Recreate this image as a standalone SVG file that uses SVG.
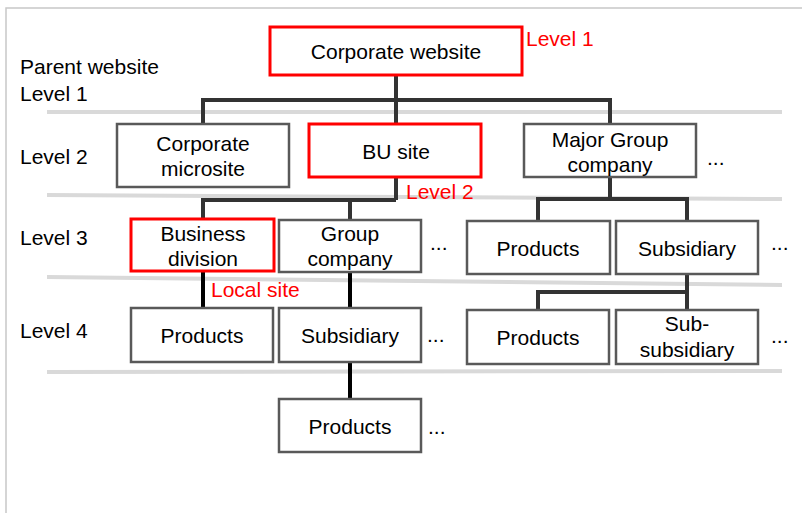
<svg xmlns="http://www.w3.org/2000/svg" width="802" height="513" viewBox="0 0 802 513">
<style>
text{font-family:"Liberation Sans",Arial,sans-serif;font-size:21px;fill:#000}
.c{text-anchor:middle}
.r{fill:#ff0000}
.box{fill:#fff;stroke:#595959;stroke-width:2.5}
.red{fill:#fff;stroke:#ff0000;stroke-width:3}
.sep{stroke:#d9d9d9;stroke-width:4;fill:none}
.ln{stroke:#333;stroke-width:4;fill:none}
.bk{stroke:#000;stroke-width:4;fill:none}
</style>
<rect width="802" height="513" fill="#fff"/>
<path d="M6,513 V8 H802" fill="none" stroke="#c8c8c8" stroke-width="1.5"/>
<g id="separators">
<line class="sep" x1="47" y1="112" x2="782" y2="112"/>
<line class="sep" x1="47" y1="195" x2="782" y2="199"/>
<line class="sep" x1="47" y1="277" x2="782" y2="285"/>
<line class="sep" x1="47" y1="372" x2="782" y2="371"/>
</g>
<g id="level-labels">
<text x="20" y="74">Parent website</text>
<text x="20" y="101">Level 1</text>
<text x="20" y="164">Level 2</text>
<text x="20" y="245">Level 3</text>
<text x="20" y="338">Level 4</text>
</g>
<g id="connectors">
<path class="ln" d="M396,75 V100 M203,124 V100 H610 V124 M396,100 V124"/>
<path class="ln" d="M396,177 V200 M203,219 V200 H396 M350,200 V220"/>
<path class="ln" d="M610,177 V199 M538,221 V199 H687 V221"/>
<path class="ln" d="M687,274 V292 M538,310 V292 H687 V310"/>
<path class="bk" d="M203,272 V308 M350,272 V308 M350,362 V399"/>
</g>
<g id="n-corporate-website"><rect class="red" x="270" y="27" width="252" height="48"/><text class="c" x="396" y="59">Corporate website</text></g>
<g id="n-corporate-microsite"><rect class="box" x="117" y="124" width="172" height="63"/><text class="c" x="203" y="151">Corporate</text><text class="c" x="203" y="176">microsite</text></g>
<g id="n-bu-site"><rect class="red" x="309" y="124" width="172" height="53"/><text class="c" x="396" y="159">BU site</text></g>
<g id="n-major-group"><rect class="box" x="524" y="124" width="172" height="53"/><text class="c" x="610" y="147">Major Group</text><text class="c" x="610" y="172">company</text></g>
<g id="n-business-division"><rect class="red" x="131" y="219" width="143" height="52"/><text class="c" x="203" y="241">Business</text><text class="c" x="203" y="266">division</text></g>
<g id="n-group-company"><rect class="box" x="279" y="220" width="142" height="52"/><text class="c" x="350" y="241">Group</text><text class="c" x="350" y="266">company</text></g>
<g id="n-products-3"><rect class="box" x="467" y="221" width="143" height="53"/><text class="c" x="538" y="256">Products</text></g>
<g id="n-subsidiary-3"><rect class="box" x="616" y="221" width="142" height="53"/><text class="c" x="687" y="256">Subsidiary</text></g>
<g id="n-products-4a"><rect class="box" x="131" y="308" width="142" height="54"/><text class="c" x="202" y="343">Products</text></g>
<g id="n-subsidiary-4"><rect class="box" x="279" y="308" width="142" height="54"/><text class="c" x="350" y="343">Subsidiary</text></g>
<g id="n-products-4b"><rect class="box" x="467" y="310" width="142" height="54"/><text class="c" x="538" y="345">Products</text></g>
<g id="n-sub-subsidiary"><rect class="box" x="616" y="310" width="142" height="54"/><text class="c" x="687" y="331">Sub-</text><text class="c" x="687" y="357">subsidiary</text></g>
<g id="n-products-5"><rect class="box" x="279" y="399" width="142" height="53"/><text class="c" x="350" y="434">Products</text></g>
<g id="annotations">
<text class="r" x="526" y="46">Level 1</text>
<text class="r" x="406" y="199">Level 2</text>
<text class="r" x="211" y="297">Local site</text>
<text x="707" y="165">...</text>
<text x="430" y="250">...</text>
<text x="771" y="250">...</text>
<text x="427" y="342">...</text>
<text x="771" y="343">...</text>
<text x="428" y="434">...</text>
</g>
</svg>
